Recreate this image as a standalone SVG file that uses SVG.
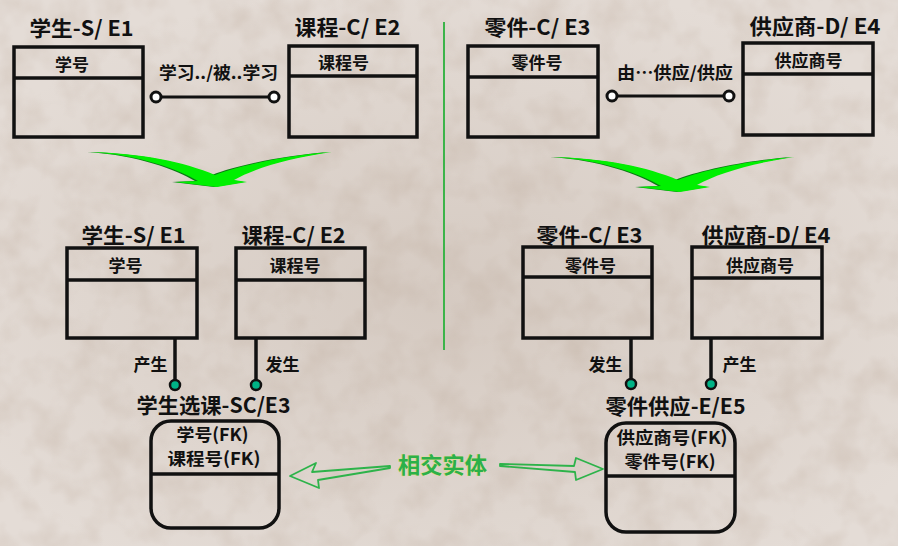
<svg xmlns="http://www.w3.org/2000/svg" width="898" height="546" viewBox="0 0 898 546">
<defs>
<style>
text{font-family:"Noto Sans CJK SC","Noto Sans",sans-serif;font-weight:bold;fill:#111;}
.title{font-size:21px;}
.attr{font-size:17px;}
.lbl{font-size:17px;}
.fk{font-size:17.5px;}
.box{fill:none;stroke:#111;stroke-width:3.5;}
.div{stroke:#111;stroke-width:3.5;}
.rel{stroke:#111;stroke-width:3;fill:none;}
.end{fill:#fff;stroke:#111;stroke-width:3;}
.dep{stroke:#111;stroke-width:3.5;}
.dot{fill:#00b386;stroke:#111;stroke-width:2.5;}
.hint{fill:none;stroke:#2db34a;stroke-width:1.8;stroke-linejoin:round;}
</style>
<filter id="tex" x="0" y="0" width="100%" height="100%">
<feTurbulence type="fractalNoise" baseFrequency="0.03" numOctaves="3" seed="7"/>
<feColorMatrix type="matrix" values="0 0 0 0 0.45  0 0 0 0 0.34  0 0 0 0 0.26  1.4 0 0 0 -0.55"/>
</filter>
<radialGradient id="dark" cx="0.5" cy="0.55" r="0.6">
<stop offset="0" stop-color="#a08a78" stop-opacity="0.22"/>
<stop offset="1" stop-color="#a08a78" stop-opacity="0"/>
</radialGradient>
<path id="chev" d="M90,152 C140,153 185,162 215,175 C240,165 290,155 332,152 C290,158 255,168 234,180 L247,182 L217,187 L175,182 L198,181 C180,170 140,155 90,152 Z"/>
</defs>
<rect width="898" height="546" fill="#e4dcd6"/>
<rect width="898" height="546" fill="url(#dark)"/>
<rect width="898" height="546" filter="url(#tex)" opacity="0.35"/>

<line x1="444" y1="22" x2="444" y2="350" stroke="#3cb44a" stroke-width="2"/>

<g id="chevron-left">
<use href="#chev" fill="#0a7a14" transform="translate(-3,0)"/>
<use href="#chev" fill="#00f000"/>
</g>
<g id="chevron-right" transform="translate(463,5)">
<use href="#chev" fill="#0a7a14" transform="translate(-3,0)"/>
<use href="#chev" fill="#00f000"/>
</g>

<g id="connectors">
<line class="rel" x1="156" y1="97" x2="274" y2="97"/>
<circle class="end" cx="156" cy="97" r="5"/>
<circle class="end" cx="274" cy="97" r="5"/>
<text class="lbl" x="218.5" y="79" text-anchor="middle" textLength="119" lengthAdjust="spacingAndGlyphs">学习../被..学习</text>

<line class="rel" x1="612" y1="96" x2="729" y2="96"/>
<circle class="end" cx="612" cy="96" r="5"/>
<circle class="end" cx="729" cy="96" r="5"/>
<text class="lbl" x="675" y="79" text-anchor="middle" textLength="116" lengthAdjust="spacingAndGlyphs">由…供应/供应</text>

<line class="dep" x1="175" y1="338" x2="175" y2="381"/>
<circle class="dot" cx="175" cy="385" r="5"/>
<text class="lbl" x="150.5" y="371" text-anchor="middle">产生</text>
<line class="dep" x1="256" y1="338" x2="256" y2="381"/>
<circle class="dot" cx="256" cy="385" r="5"/>
<text class="lbl" x="282.5" y="371" text-anchor="middle">发生</text>

<line class="dep" x1="631" y1="338" x2="631" y2="380"/>
<circle class="dot" cx="631" cy="384" r="5"/>
<text class="lbl" x="605.5" y="371" text-anchor="middle">发生</text>
<line class="dep" x1="711" y1="338" x2="711" y2="380"/>
<circle class="dot" cx="711" cy="384" r="5"/>
<text class="lbl" x="739.5" y="371" text-anchor="middle">产生</text>

<polygon class="hint" points="290,476 316,463 312,472 390,466 390,468 318,480 319,488"/>
<polygon class="hint" points="500,464 574,466 576,458 603,469 576,480 575,472 500,466"/>
<text x="442.5" y="473" text-anchor="middle" textLength="89" lengthAdjust="spacingAndGlyphs" style="font-size:22px;fill:#2bb04a;stroke:#e8e070;stroke-width:0.6;paint-order:stroke">相交实体</text>
</g>

<g id="student-top">
<text class="title" x="81.5" y="36" text-anchor="middle" textLength="104" lengthAdjust="spacingAndGlyphs">学生-S/ E1</text>
<rect class="box" x="14" y="47" width="129" height="90"/>
<line class="div" x1="14" y1="78" x2="143" y2="78"/>
<text class="attr" x="72" y="71" text-anchor="middle">学号</text>
</g>
<g id="course-top">
<text class="title" x="347.5" y="35" text-anchor="middle" textLength="106" lengthAdjust="spacingAndGlyphs">课程-C/ E2</text>
<rect class="box" x="289" y="46" width="128" height="91"/>
<line class="div" x1="289" y1="76" x2="417" y2="76"/>
<text class="attr" x="343.5" y="69" text-anchor="middle">课程号</text>
</g>
<g id="part-top">
<text class="title" x="537.5" y="35" text-anchor="middle" textLength="106" lengthAdjust="spacingAndGlyphs">零件-C/ E3</text>
<rect class="box" x="468" y="46" width="130" height="91"/>
<line class="div" x1="468" y1="77" x2="598" y2="77"/>
<text class="attr" x="537" y="69" text-anchor="middle">零件号</text>
</g>
<g id="supplier-top">
<text class="title" x="815" y="34" text-anchor="middle" textLength="131" lengthAdjust="spacingAndGlyphs">供应商-D/ E4</text>
<rect class="box" x="743" y="43" width="130" height="92"/>
<line class="div" x1="743" y1="74" x2="873" y2="74"/>
<text class="attr" x="808.5" y="67" text-anchor="middle">供应商号</text>
</g>

<g id="student-bottom">
<text class="title" x="133.5" y="243" text-anchor="middle" textLength="104" lengthAdjust="spacingAndGlyphs">学生-S/ E1</text>
<rect class="box" x="67" y="248" width="130" height="90"/>
<line class="div" x1="67" y1="280" x2="197" y2="280"/>
<text class="attr" x="125.5" y="272" text-anchor="middle">学号</text>
</g>
<g id="course-bottom">
<text class="title" x="293.5" y="243" text-anchor="middle" textLength="104" lengthAdjust="spacingAndGlyphs">课程-C/ E2</text>
<rect class="box" x="236" y="248" width="129" height="90"/>
<line class="div" x1="236" y1="280" x2="365" y2="280"/>
<text class="attr" x="295" y="272" text-anchor="middle">课程号</text>
</g>
<g id="enrollment">
<text class="title" x="213.5" y="413" text-anchor="middle" textLength="154" lengthAdjust="spacingAndGlyphs">学生选课-SC/E3</text>
<rect class="box" x="151" y="421" width="128" height="107" rx="20"/>
<line class="div" x1="151" y1="474" x2="279" y2="474"/>
<text class="fk" x="212.5" y="441" text-anchor="middle" textLength="72" lengthAdjust="spacingAndGlyphs">学号(FK)</text>
<text class="fk" x="214" y="465" text-anchor="middle" textLength="93" lengthAdjust="spacingAndGlyphs">课程号(FK)</text>
</g>

<g id="part-bottom">
<text class="title" x="589.5" y="243" text-anchor="middle" textLength="106" lengthAdjust="spacingAndGlyphs">零件-C/ E3</text>
<rect class="box" x="523" y="247" width="129" height="91"/>
<line class="div" x1="523" y1="277" x2="652" y2="277"/>
<text class="attr" x="590.5" y="272" text-anchor="middle">零件号</text>
</g>
<g id="supplier-bottom">
<text class="title" x="766" y="243" text-anchor="middle" textLength="129" lengthAdjust="spacingAndGlyphs">供应商-D/ E4</text>
<rect class="box" x="692" y="247" width="130" height="91"/>
<line class="div" x1="692" y1="278" x2="822" y2="278"/>
<text class="attr" x="760" y="272" text-anchor="middle">供应商号</text>
</g>
<g id="supply">
<text class="title" x="675.5" y="414" text-anchor="middle" textLength="140" lengthAdjust="spacingAndGlyphs">零件供应-E/E5</text>
<rect class="box" x="606" y="423" width="129" height="109" rx="20"/>
<line class="div" x1="606" y1="476" x2="735" y2="476"/>
<text class="fk" x="672" y="444" text-anchor="middle" textLength="111" lengthAdjust="spacingAndGlyphs">供应商号(FK)</text>
<text class="fk" x="670" y="468" text-anchor="middle" textLength="91" lengthAdjust="spacingAndGlyphs">零件号(FK)</text>
</g>
</svg>
